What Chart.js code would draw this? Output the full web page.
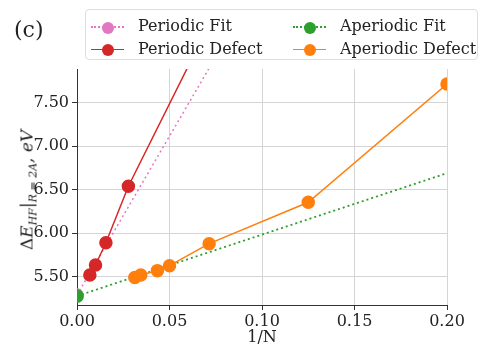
<!DOCTYPE html>
<html><head><meta charset="utf-8">
<script src="https://cdn.jsdelivr.net/npm/chart.js@4/dist/chart.umd.min.js"></script>
<style>
html,body{margin:0;padding:0;background:#fff;}
#wrap{position:relative;width:481px;height:347px;font-family:"DejaVu Serif",serif;color:#222;}
canvas{position:absolute;left:0;top:0;}
#label{position:absolute;left:14px;top:17px;font-size:22px;}
#legend{position:absolute;left:85px;top:9px;width:393px;height:51px;border:1px solid #ddd;border-radius:4px;box-sizing:border-box;font-size:16px;}
.item{position:absolute;height:20px;line-height:20px;white-space:nowrap;}
.mk{position:absolute;top:10px;width:33px;height:0;}
.dot{position:absolute;width:12px;height:12px;border-radius:50%;top:-6px;left:11px;}
.txt{position:absolute;left:47px;top:0;}
#ytitle{position:absolute;left:28px;top:190px;transform:translate(-50%,-50%) rotate(-90deg);white-space:nowrap;font-size:17px;font-style:italic;line-height:20px;}
#ytitle .s{font-size:11px;position:relative;top:4px;}
</style></head>
<body><div id="wrap">
<canvas id="c" width="481" height="347"></canvas>
<div id="label">(c)</div>
<div id="legend"></div>
<div id="ytitle"><span style="font-style:normal">Δ</span>E<span class="s">HF</span>|<span class="s">R = 2A</span>, eV</div>
</div>
<script>
// Data
const periodicDefectX = [1/144, 1/100, 1/64, 1/36, 1/16];
const periodicDefectY = [5.52, 5.635, 5.89, 6.54, 8.02];
const aperiodicDefectX = [1/32, 1/29, 1/23, 1/20, 1/14, 1/8, 1/5];
const aperiodicDefectY = [5.49, 5.52, 5.57, 5.627, 5.88, 6.355, 7.715];
const periodicFitX = [0, 0.08];
const periodicFitY = [5.29, 8.21];
const aperiodicFitX = [0, 0.2];
const aperiodicFitY = [5.278, 6.69];
const xTicks = [0, 0.05, 0.10, 0.15, 0.20];
const yTicks = [5.5, 6.0, 6.5, 7.0, 7.5];
const seriesNames = ["Periodic Fit", "Aperiodic Fit", "Periodic Defect", "Aperiodic Defect"];

const colors = {pink:"#e377c2", green:"#2ca02c", red:"#d62728", orange:"#ff7f0e"};
const pts = (xs, ys) => xs.map((x,i)=>({x, y: ys[i]}));

const legendDefs = [
  {name:seriesNames[0], color:colors.pink, dash:true, left:5, top:6},
  {name:seriesNames[1], color:colors.green, dash:true, left:207, top:6},
  {name:seriesNames[2], color:colors.red, dash:false, left:5, top:29},
  {name:seriesNames[3], color:colors.orange, dash:false, left:207, top:29},
];
const lg = document.getElementById('legend');
legendDefs.forEach(d=>{
  const it = document.createElement('div');
  it.className='item'; it.style.left=d.left+'px'; it.style.top=d.top+'px';
  it.innerHTML = `<div class="mk" style="border-top:${d.dash?'2px dotted':'1.5px solid'} ${d.color}"><div class="dot" style="background:${d.color}"></div></div><span class="txt">${d.name}</span>`;
  lg.appendChild(it);
});

const font = {family:"'DejaVu Serif', serif", size:16};
new Chart(document.getElementById('c'), {
  type:'line',
  data:{datasets:[
    {label:seriesNames[0], data:pts(periodicFitX, periodicFitY), borderColor:colors.pink, backgroundColor:colors.pink,
     borderDash:[2,3], borderWidth:1.5, pointRadius:[6,0], pointHoverRadius:0, order:4, clip:0},
    {label:seriesNames[1], data:pts(aperiodicFitX, aperiodicFitY), borderColor:colors.green, backgroundColor:colors.green,
     borderDash:[2,3], borderWidth:1.8, pointRadius:[6,0], order:3, clip:0},
    {label:seriesNames[2], data:pts(periodicDefectX, periodicDefectY), borderColor:colors.red, backgroundColor:colors.red,
     borderWidth:1.5, pointRadius:6, order:2, clip:0},
    {label:seriesNames[3], data:pts(aperiodicDefectX, aperiodicDefectY), borderColor:colors.orange, backgroundColor:colors.orange,
     borderWidth:1.5, pointRadius:6, order:1, clip:0},
  ]},
  options:{
    responsive:false, animation:false,
    layout:{padding:{left:0, right:34, top:69, bottom:0}},
    plugins:{legend:{display:false}, tooltip:{enabled:false}},
    elements:{point:{borderWidth:0}, line:{tension:0}},
    scales:{
      x:{type:'linear', min:0, max:0.2,
        afterBuildTicks: a=>{a.ticks = xTicks.map(v=>({value:v}));},
        afterFit: a=>{a.height = 42;},
        ticks:{font, color:'#222', padding:2, callback:v=>Number(v).toFixed(2), maxRotation:0},
        grid:{color:'#d5d5d5', tickColor:'#333', tickLength:5, lineWidth:1},
        border:{color:'#333', width:1},
        title:{display:true, text:'1/N', font, color:'#222', padding:{top:-4,bottom:0}}
      },
      y:{type:'linear', min:5.175, max:7.887,
        afterBuildTicks: a=>{a.ticks = yTicks.map(v=>({value:v}));},
        afterFit: a=>{a.width = 77;},
        ticks:{font, color:'#222', padding:3, callback:v=>Number(v).toFixed(2)},
        grid:{color:'#d5d5d5', tickColor:'#333', tickLength:5, lineWidth:1},
        border:{color:'#333', width:1}
      }
    }
  }
});
</script>
</body></html>
